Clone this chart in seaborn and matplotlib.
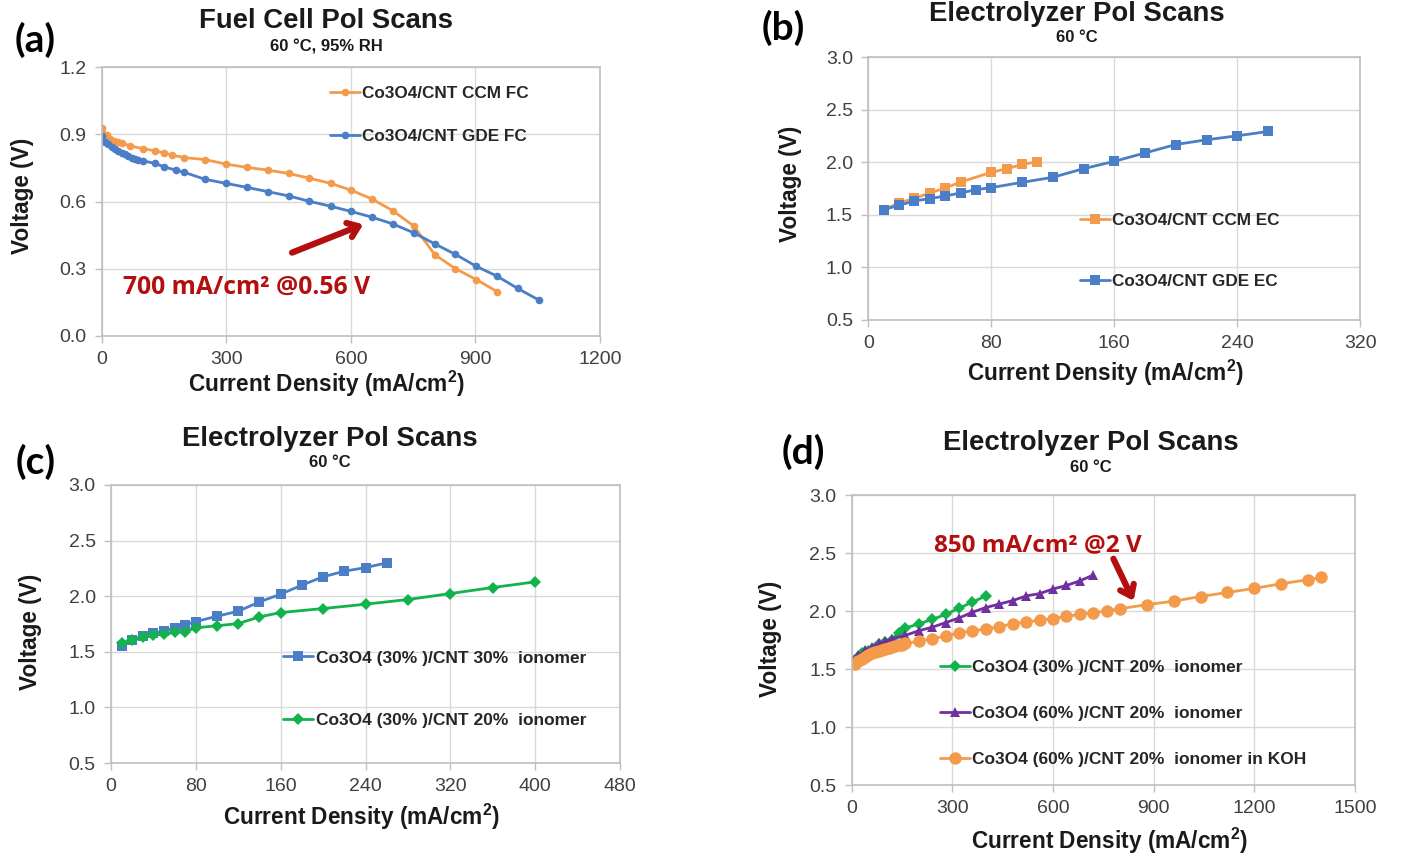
import matplotlib
matplotlib.use("Agg")
import matplotlib.pyplot as plt
import pandas as pd
import seaborn as sns

# ---------------- data ----------------
# (a) Fuel cell polarization
a_ccm_x = [0, 12, 20, 30, 40, 50, 68, 99, 129, 149, 169, 199, 249, 299, 350, 400, 450, 500,
           551, 600, 651, 701, 752, 802, 852, 902, 953]
a_ccm_y = [0.93, 0.897, 0.88, 0.87, 0.866, 0.86, 0.848, 0.836, 0.826, 0.817, 0.807, 0.796,
           0.787, 0.767, 0.752, 0.74, 0.725, 0.704, 0.681, 0.651, 0.611, 0.559, 0.49, 0.363,
           0.30, 0.252, 0.197]
a_gde_x = [0, 8, 16, 24, 32, 40, 48, 56, 64, 72, 80, 88, 99, 129, 149, 179, 199, 249, 299,
           350, 400, 450, 500, 551, 600, 651, 701, 752, 802, 852, 902, 953, 1002, 1053]
a_gde_y = [0.892, 0.866, 0.855, 0.844, 0.835, 0.826, 0.818, 0.811, 0.804, 0.796, 0.79, 0.786,
           0.781, 0.77, 0.755, 0.74, 0.73, 0.699, 0.681, 0.663, 0.644, 0.625, 0.601, 0.579,
           0.556, 0.53, 0.50, 0.46, 0.411, 0.364, 0.311, 0.266, 0.212, 0.16]

# (b) Electrolyzer CCM vs GDE
b_ccm_x = [10, 20, 30, 40, 50, 60, 80, 90, 100, 110]
b_ccm_y = [1.55, 1.614, 1.658, 1.709, 1.756, 1.813, 1.905, 1.94, 1.98, 2.006]
b_gde_x = [10, 20, 30, 40, 50, 60, 70, 80, 100, 120, 140, 160, 180, 200, 220, 240, 260]
b_gde_y = [1.55, 1.592, 1.633, 1.655, 1.68, 1.709, 1.74, 1.76, 1.81, 1.858, 1.94, 2.01,
           2.09, 2.17, 2.215, 2.253, 2.294]

# (c) ionomer content
c_30_x = [10, 20, 30, 40, 50, 60, 70, 80, 100, 120, 140, 160, 180, 200, 220, 240, 260]
c_30_y = [1.554, 1.605, 1.64, 1.665, 1.689, 1.713, 1.743, 1.772, 1.82, 1.865, 1.949, 2.018,
          2.10, 2.174, 2.225, 2.257, 2.30]
c_20_x = [10, 20, 30, 40, 50, 60, 70, 80, 100, 120, 140, 160, 200, 240, 280, 320, 360, 400]
c_20_y = [1.581, 1.605, 1.635, 1.65, 1.659, 1.674, 1.68, 1.716, 1.734, 1.754, 1.814, 1.853,
          1.889, 1.928, 1.97, 2.024, 2.078, 2.129]

# (d) catalyst loading / KOH
d_30_x = c_20_x
d_30_y = c_20_y
d_60_x = [10, 20, 40, 60, 80, 100, 120, 160, 200, 240, 280, 320, 360, 400, 440, 480, 520,
          560, 600, 640, 680, 720]
d_60_y = [1.59, 1.62, 1.66, 1.69, 1.72, 1.74, 1.76, 1.79, 1.83, 1.86, 1.90, 1.94, 1.99, 2.03,
          2.06, 2.09, 2.13, 2.15, 2.19, 2.22, 2.26, 2.31]
d_koh_x = [10, 20, 30, 40, 50, 60, 70, 80, 90, 100, 110, 120, 130, 140, 150, 160, 200, 240,
           280, 320, 360, 400, 440, 480, 520, 560, 600, 640, 680, 720, 760, 800, 880, 960,
           1040, 1120, 1200, 1280, 1360, 1400]
d_koh_y = [1.54, 1.565, 1.585, 1.605, 1.62, 1.635, 1.645, 1.655, 1.665, 1.675, 1.685, 1.69,
           1.70, 1.705, 1.71, 1.72, 1.74, 1.76, 1.785, 1.81, 1.83, 1.845, 1.865, 1.89, 1.905,
           1.92, 1.935, 1.955, 1.97, 1.985, 2.0, 2.02, 2.055, 2.085, 2.125, 2.16, 2.195,
           2.235, 2.27, 2.29]

# text
a_labels = ["Co3O4/CNT CCM FC", "Co3O4/CNT GDE FC"]
b_labels = ["Co3O4/CNT CCM EC", "Co3O4/CNT GDE EC"]
c_labels = ["Co3O4 (30% )/CNT 30%  ionomer", "Co3O4 (30% )/CNT 20%  ionomer"]
d_labels = ["Co3O4 (30% )/CNT 20%  ionomer", "Co3O4 (60% )/CNT 20%  ionomer",
            "Co3O4 (60% )/CNT 20%  ionomer in KOH"]
title_fc = "Fuel Cell Pol Scans"
title_ec = "Electrolyzer Pol Scans"
sub_fc = "60 °C, 95% RH"
sub_ec = "60 °C"
xlab = "Current Density (mA/cm$^{\\mathbf{2}}$)"
ylab = "Voltage (V)"

# ---------------- style ----------------
sns.set_theme(style="white")
plt.rcParams["font.family"] = ["Liberation Sans", "DejaVu Sans"]
plt.rcParams["mathtext.fontset"] = "custom"
plt.rcParams["mathtext.rm"] = "Liberation Sans"
plt.rcParams["mathtext.bf"] = "Liberation Sans:bold"

ORANGE = "#F39B4B"
BLUE = "#4A7EC6"
GREEN = "#12B24C"
PURPLE = "#7030A0"
RED = "#B40F0F"
GRID = "#D9D9D9"
SPINE = "#BFBFBF"
TICKC = "#404040"

W, H = 1402, 857
fig = plt.figure(figsize=(W / 100, H / 100), dpi=100)
fig.patch.set_facecolor("white")


def add_ax(left, top, right, bottom):
    return fig.add_axes([left / W, 1 - bottom / H, (right - left) / W, (bottom - top) / H])


def px(x, y):
    return x / W, 1 - y / H


def style(ax, xlim, xticks, ylim, yticks, yfmt):
    ax.set_xlim(*xlim)
    ax.set_ylim(*ylim)
    ax.set_xticks(xticks)
    ax.set_yticks(yticks)
    ax.set_yticklabels([yfmt.format(v) for v in yticks])
    ax.grid(True, color=GRID, linewidth=1.0)
    for s in ax.spines.values():
        s.set_color(SPINE)
        s.set_linewidth(1.2)
    ax.tick_params(axis="both", which="both", direction="out", length=5, width=1,
                   color=SPINE, labelsize=14, labelcolor=TICKC, left=True, bottom=True)
    ax.tick_params(axis="y", pad=6)
    ax.tick_params(axis="x", pad=6)
    ax.set_xlabel("")
    ax.set_ylabel("")


def line(ax, x, y, color, marker, ms, label):
    df = pd.DataFrame({"x": x, "y": y})
    sns.lineplot(data=df, x="x", y="y", ax=ax, color=color, marker=marker, markersize=ms,
                 markeredgewidth=0, linewidth=2.0, label=label, estimator=None, sort=False)


def legend(ax, anchor, fs, spacing):
    ax.legend(loc="upper left", bbox_to_anchor=anchor, frameon=False, borderpad=0,
              borderaxespad=0, handlelength=1.75, handletextpad=0.12, labelspacing=spacing,
              prop={"weight": "bold", "size": fs}, labelcolor="#262626")


def titles(cx, ty, sy, title, sub):
    fig.text(*px(cx, ty), title, ha="center", va="center", fontsize=19.8,
             fontweight="bold", color="#1a1a1a")
    fig.text(*px(cx, sy), sub, ha="center", va="center", fontsize=12,
             fontweight="bold", color="#1a1a1a")


def labels(xc, xy, yx, yy):
    fig.text(*px(xc, xy), xlab, ha="center", va="center", fontsize=16.3,
             fontweight="bold", color="#1a1a1a")
    fig.text(*px(yx, yy), ylab, ha="center", va="center", fontsize=16.3,
             fontweight="bold", color="#1a1a1a", rotation=90)


def panel(x, y, s):
    fig.text(*px(x, y), s, ha="center", va="center", fontsize=28, fontweight="bold",
             family=["Lato", "DejaVu Sans"], color="black")


# ---------------- (a) ----------------
ax = add_ax(101.7, 67, 600, 336)
line(ax, a_ccm_x, a_ccm_y, ORANGE, "o", 5.5, a_labels[0])
line(ax, a_gde_x, a_gde_y, BLUE, "o", 5.5, a_labels[1])
style(ax, (0, 1200), [0, 300, 600, 900, 1200], (0, 1.2), [0, 0.3, 0.6, 0.9, 1.2], "{:.1f}")
legend(ax, (0.458, 0.93), 12.3, 1.63)
ax.text(0.29, 0.182, "700 mA/cm² @0.56 V", transform=ax.transAxes, ha="center",
        va="center", fontsize=17.8, fontweight="bold", color=RED,
        family=["Open Sans", "DejaVu Sans"])
ax.annotate("", xy=(0.525, 0.415), xytext=(0.382, 0.31), xycoords="axes fraction",
            textcoords="axes fraction",
            arrowprops=dict(arrowstyle="->,head_length=0.6,head_width=0.45", lw=4.5,
                            color=RED, shrinkA=0, shrinkB=0))
titles(326, 21, 47, title_fc, sub_fc)
labels(327, 384, 22, 196)
panel(35, 40, "(a)")

# ---------------- (b) ----------------
ax = add_ax(868.3, 57.3, 1360.3, 320)
line(ax, b_ccm_x, b_ccm_y, ORANGE, "s", 6.5, b_labels[0])
line(ax, b_gde_x, b_gde_y, BLUE, "s", 6.5, b_labels[1])
style(ax, (0, 320), [0, 80, 160, 240, 320], (0.5, 3.0), [0.5, 1.0, 1.5, 2.0, 2.5, 3.0],
      "{:.1f}")
legend(ax, (0.43, 0.407), 12.3, 2.68)
titles(1077, 14, 38, title_ec, sub_ec)
labels(1106, 373, 790, 184)
panel(783, 28, "(b)")

# ---------------- (c) ----------------
ax = add_ax(111, 485, 620, 763)
line(ax, c_30_x, c_30_y, BLUE, "s", 6.5, c_labels[0])
line(ax, c_20_x, c_20_y, GREEN, "D", 6.5, c_labels[1])
style(ax, (0, 480), [0, 80, 160, 240, 320, 400, 480], (0.5, 3.0),
      [0.5, 1.0, 1.5, 2.0, 2.5, 3.0], "{:.1f}")
legend(ax, (0.338, 0.405), 12.5, 2.73)
titles(330, 439, 463, title_ec, sub_ec)
labels(362, 817, 30, 632)
panel(36, 462, "(c)")

# ---------------- (d) ----------------
ax = add_ax(851.7, 495, 1355, 785)
line(ax, d_30_x, d_30_y, GREEN, "D", 6.5, d_labels[0])
line(ax, d_60_x, d_60_y, PURPLE, "^", 7.5, d_labels[1])
line(ax, d_koh_x, d_koh_y, ORANGE, "o", 9, d_labels[2])
style(ax, (0, 1500), [0, 300, 600, 900, 1200, 1500], (0.5, 3.0),
      [0.5, 1.0, 1.5, 2.0, 2.5, 3.0], "{:.1f}")
legend(ax, (0.1754, 0.433), 12.5, 1.78)
ax.text(0.37, 0.828, "850 mA/cm² @2 V", transform=ax.transAxes, ha="center",
        va="center", fontsize=17.5, fontweight="bold", color=RED,
        family=["Open Sans", "DejaVu Sans"])
ax.annotate("", xy=(0.56, 0.635), xytext=(0.52, 0.78), xycoords="axes fraction",
            textcoords="axes fraction",
            arrowprops=dict(arrowstyle="->,head_length=0.6,head_width=0.45", lw=4.5,
                            color=RED, shrinkA=0, shrinkB=0))
titles(1091, 443, 468, title_ec, sub_ec)
labels(1110, 841, 770, 639)
panel(803, 452, "(d)")

fig.savefig("out.png", dpi=100, facecolor="white")
